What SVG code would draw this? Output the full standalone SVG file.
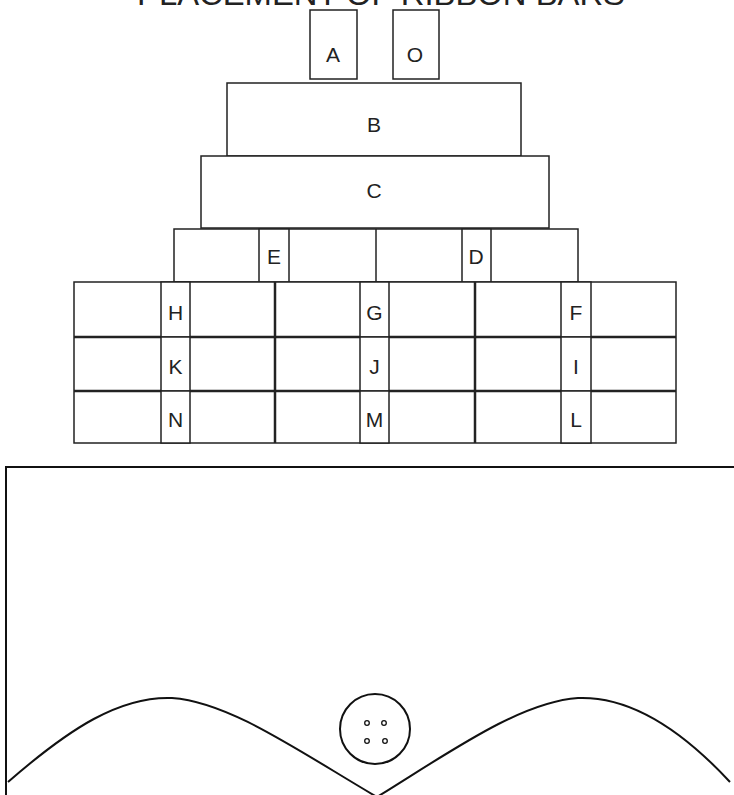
<svg xmlns="http://www.w3.org/2000/svg" width="734" height="795" viewBox="0 0 734 795">
<style>
.b{fill:#fff;stroke:#222;stroke-width:1.5}
.t{font-family:"Liberation Sans",Arial,sans-serif;font-size:21px;fill:#222;text-anchor:middle}
.thick{stroke:#222;stroke-width:2.5;fill:none}
.ln{stroke:#111;stroke-width:2;fill:none}
</style>
<rect width="734" height="795" fill="#fff"/>
<text id="title" x="381" y="5" class="t" style="font-size:32px" textLength="488" lengthAdjust="spacingAndGlyphs">PLACEMENT OF RIBBON BARS</text>
<g id="A"><rect class="b" x="310" y="10" width="47" height="69"/><text class="t" x="333" y="62">A</text></g>
<g id="O"><rect class="b" x="393" y="10" width="46" height="69"/><text class="t" x="415" y="62">O</text></g>
<g id="B"><rect class="b" x="227" y="83" width="294" height="73"/><text class="t" x="374" y="132">B</text></g>
<g id="C"><rect class="b" x="201" y="156" width="348" height="72"/><text class="t" x="374" y="198">C</text></g>
<g id="row-ED"><rect class="b" x="174" y="229" width="404" height="53"/><line class="b" x1="376" y1="229" x2="376" y2="282"/></g>
<g id="E"><rect class="b" x="259" y="229" width="30" height="53"/><text class="t" x="274" y="264">E</text></g>
<g id="D"><rect class="b" x="462" y="229" width="29" height="53"/><text class="t" x="476" y="264">D</text></g>
<g id="grid">
<rect class="b" x="74" y="282" width="602" height="161"/>
<line class="thick" x1="74" y1="337" x2="676" y2="337"/>
<line class="thick" x1="74" y1="391" x2="676" y2="391"/>
<line class="thick" x1="275" y1="282" x2="275" y2="443"/>
<line class="thick" x1="475" y1="282" x2="475" y2="443"/>
</g>
<g id="H"><rect class="b" x="161" y="282" width="29" height="55"/><text class="t" x="175.5" y="320">H</text></g>
<g id="K"><rect class="b" x="161" y="337" width="29" height="54"/><text class="t" x="175.5" y="374">K</text></g>
<g id="N"><rect class="b" x="161" y="391" width="29" height="52"/><text class="t" x="175.5" y="427">N</text></g>
<g id="G"><rect class="b" x="360" y="282" width="29" height="55"/><text class="t" x="374.5" y="320">G</text></g>
<g id="J"><rect class="b" x="360" y="337" width="29" height="54"/><text class="t" x="374.5" y="374">J</text></g>
<g id="M"><rect class="b" x="360" y="391" width="29" height="52"/><text class="t" x="374.5" y="427">M</text></g>
<g id="F"><rect class="b" x="561" y="282" width="30" height="55"/><text class="t" x="576" y="320">F</text></g>
<g id="I"><rect class="b" x="561" y="337" width="30" height="54"/><text class="t" x="576" y="374">I</text></g>
<g id="L"><rect class="b" x="561" y="391" width="30" height="52"/><text class="t" x="576" y="427">L</text></g>
<g id="connectors"></g>
<g id="pocket">
<path class="ln" d="M6 800 V467 H740"/>
<path class="ln" d="M8 782 C70 728 120 696 172 698 C230 702 300 752 377 797"/>
<path class="ln" d="M377 797 C450 752 520 702 578 698 C630 696 680 728 730 782"/>
</g>
<g id="button">
<circle cx="375" cy="729" r="35" fill="none" stroke="#111" stroke-width="2"/>
<g fill="none" stroke="#111" stroke-width="1.3">
<circle cx="367" cy="723" r="2.3"/><circle cx="384" cy="723" r="2.3"/>
<circle cx="367" cy="741" r="2.3"/><circle cx="385" cy="741" r="2.3"/>
</g>
</g>
</svg>
